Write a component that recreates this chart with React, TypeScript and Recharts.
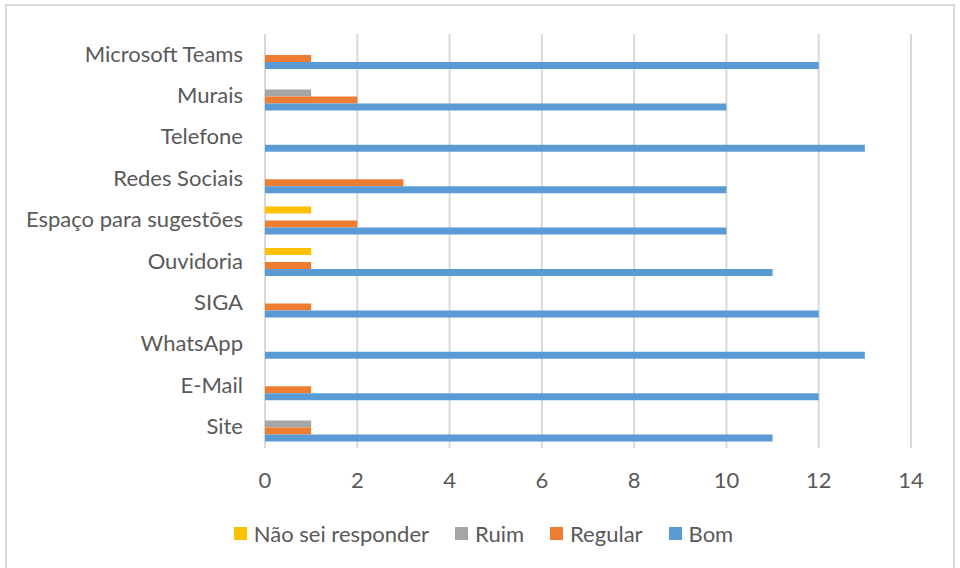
import React from "react";
import { Bar, BarChart, CartesianGrid, Legend, XAxis, YAxis } from "recharts";

const canais = [
  "Microsoft Teams",
  "Murais",
  "Telefone",
  "Redes Sociais",
  "Espaço para sugestões",
  "Ouvidoria",
  "SIGA",
  "WhatsApp",
  "E-Mail",
  "Site",
];

const naoSei = [0, 0, 0, 0, 1, 1, 0, 0, 0, 0];
const ruim = [0, 1, 0, 0, 0, 0, 0, 0, 0, 1];
const regular = [1, 2, 0, 3, 2, 1, 1, 0, 1, 1];
const bom = [12, 10, 13, 10, 10, 11, 12, 13, 12, 11];

const xTicks = [0, 2, 4, 6, 8, 10, 12, 14];

const series = [
  { key: "naoSei", name: "Não sei responder", color: "#ffc000" },
  { key: "ruim", name: "Ruim", color: "#a5a5a5" },
  { key: "regular", name: "Regular", color: "#ed7d31" },
  { key: "bom", name: "Bom", color: "#5b9bd5" },
];

const data = canais.map((canal, i) => ({
  canal,
  naoSei: naoSei[i],
  ruim: ruim[i],
  regular: regular[i],
  bom: bom[i],
}));

const FONT = "Lato, 'Open Sans', sans-serif";
const TEXT = "#595959";
const SIZE = 22;

function LegendContent() {
  return (
    <div
      style={{
        display: "flex",
        justifyContent: "center",
        gap: 26,
        fontFamily: FONT,
        fontSize: SIZE,
        color: TEXT,
        marginTop: 12,
        marginLeft: 56,
      }}
    >
      {series.map((s) => (
        <div key={s.key} style={{ display: "flex", alignItems: "center" }}>
          <span
            style={{
              width: 13,
              height: 13,
              background: s.color,
              display: "inline-block",
              marginRight: 7,
            }}
          />
          {s.name}
        </div>
      ))}
    </div>
  );
}

export default function App() {
  return (
    <div
      style={{
        position: "absolute",
        left: 0,
        top: 0,
        width: 960,
        height: 568,
        background: "#fff",
      }}
    >
      <div
        style={{
          position: "absolute",
          left: 5,
          top: 4,
          width: 946,
          height: 570,
          border: "2px solid #d9d9d9",
        }}
      />
      <BarChart
        width={960}
        height={568}
        data={data}
        layout="vertical"
        margin={{ top: 34, right: 49, bottom: 20, left: 0 }}
        barSize={7}
        barGap={0}
      >
        <CartesianGrid horizontal={false} stroke="#d9d9d9" strokeWidth={2} />
        <XAxis
          type="number"
          domain={[0, 14]}
          ticks={xTicks}
          axisLine={false}
          tickLine={false}
          tickMargin={18}
          height={60}
          tick={{ fill: TEXT, fontSize: SIZE, fontFamily: FONT }}
        />
        <YAxis
          type="category"
          dataKey="canal"
          width={265}
          axisLine={false}
          tickLine={false}
          tickMargin={16}
          tick={{ fill: TEXT, fontSize: SIZE, fontFamily: FONT, dy: -1 }}
        />
        <Legend
          verticalAlign="bottom"
          height={40}
          content={<LegendContent />}
        />
        {series.map((s) => (
          <Bar
            key={s.key}
            dataKey={s.key}
            name={s.name}
            fill={s.color}
            isAnimationActive={false}
          />
        ))}
      </BarChart>
    </div>
  );
}
